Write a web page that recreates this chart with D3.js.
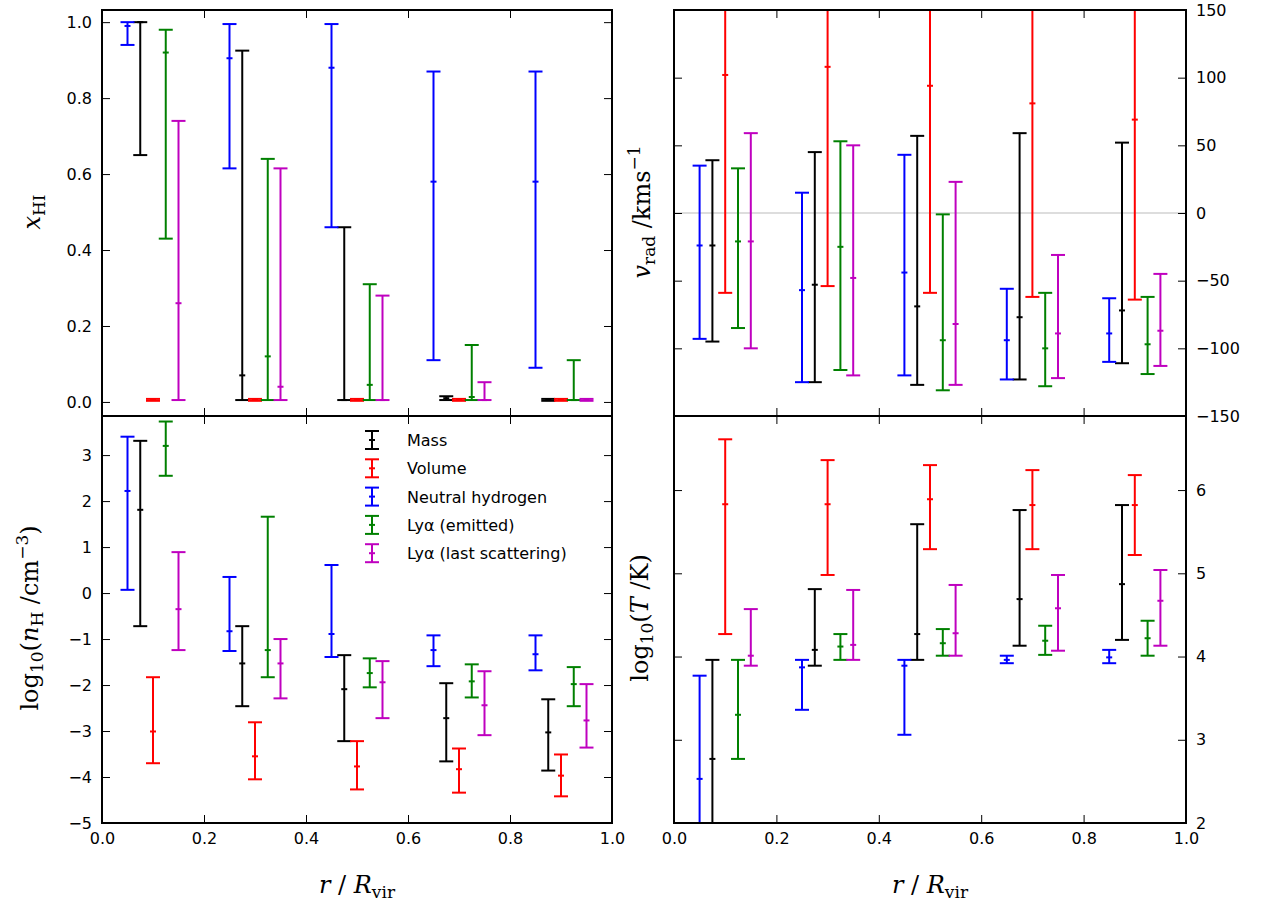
<!DOCTYPE html>
<html><head><meta charset="utf-8">
<script src="https://cdn.jsdelivr.net/npm/d3@7"></script>
<style>body{margin:0;background:#fff}text{font-family:"DejaVu Sans",sans-serif}</style>
</head><body><svg id="c" width="1272" height="904"></svg>
<script>
const seriesNames = ["Mass", "Volume", "Neutral hydrogen", "Ly\u03b1 (emitted)", "Ly\u03b1 (last scattering)"];
const seriesColors = ["#000", "#f00", "#00f", "#008000", "#bf00bf"];
const seriesOffset = [0.025, 0.05, 0, 0.075, 0.1];
const groupStart = [0.05, 0.25, 0.45, 0.65, 0.85];

// [centre, low, high] per group, series in seriesNames order
const xhiData = [
  [[1.0,0.65,1.0],[0.07,0.005,0.925],[0.005,0.005,0.46],[0.01,0.005,0.015],[0.005,0.003,0.008]],
  [[0.005,0.003,0.008],[0.005,0.003,0.008],[0.005,0.003,0.008],[0.005,0.003,0.008],[0.005,0.003,0.008]],
  [[0.99,0.94,1.0],[0.905,0.615,0.995],[0.88,0.46,0.995],[0.58,0.11,0.87],[0.58,0.09,0.87]],
  [[0.92,0.43,0.98],[0.12,0.005,0.64],[0.045,0.005,0.31],[0.013,0.005,0.15],[0.005,0.005,0.11]],
  [[0.26,0.005,0.74],[0.04,0.005,0.615],[0.005,0.005,0.28],[0.005,0.005,0.052],[0.005,0.003,0.008]]
];
const vradData = [
  [[-24,-95,39],[-53,-125,45],[-69,-127,57],[-77,-123,59],[-72,-111,52]],
  [[102,-59,200],[108,-54,200],[94,-59,200],[81,-62,200],[69,-64,200]],
  [[-24,-93,35],[-57,-125,15],[-44,-120,43],[-94,-123,-56],[-89,-110,-63]],
  [[-21,-85,33],[-25,-116,53],[-94,-131,-1],[-100,-128,-59],[-97,-119,-62]],
  [[-21,-100,59],[-48,-120,50],[-82,-127,23],[-89,-122,-31],[-87,-113,-45]]
];
const nhData = [
  [[1.81,-0.72,3.31],[-1.53,-2.46,-0.72],[-2.09,-3.22,-1.35],[-2.72,-3.66,-1.96],[-3.03,-3.86,-2.31]],
  [[-3.01,-3.7,-1.83],[-3.55,-4.05,-2.81],[-3.77,-4.27,-3.22],[-3.83,-4.34,-3.38],[-3.97,-4.42,-3.51]],
  [[2.22,0.07,3.4],[-0.83,-1.26,0.35],[-0.89,-1.39,0.61],[-1.24,-1.59,-0.92],[-1.33,-1.68,-0.92]],
  [[3.2,2.55,3.73],[-1.24,-1.83,1.66],[-1.74,-2.05,-1.42],[-1.92,-2.27,-1.55],[-1.98,-2.46,-1.61]],
  [[-0.35,-1.24,0.89],[-1.53,-2.29,-1.0],[-1.94,-2.72,-1.48],[-2.44,-3.09,-1.7],[-2.77,-3.36,-1.98]]
];
const tempData = [
  [[2.77,1.8,3.96],[4.08,3.89,4.81],[4.27,3.96,5.59],[4.69,4.13,5.76],[4.87,4.2,5.82]],
  [[5.83,4.27,6.61],[5.83,4.98,6.36],[5.89,5.29,6.3],[5.82,5.29,6.24],[5.82,5.22,6.18]],
  [[2.53,1.8,3.77],[3.87,3.36,3.96],[3.89,3.06,3.96],[3.96,3.92,4.01],[3.99,3.92,4.08]],
  [[3.3,2.77,3.96],[4.12,3.96,4.27],[4.16,4.01,4.33],[4.19,4.02,4.37],[4.22,4.01,4.43]],
  [[4.01,3.89,4.57],[4.14,3.96,4.8],[4.28,4.01,4.86],[4.58,4.07,4.98],[4.67,4.13,5.04]]
];
const xTicks = [0, 0.2, 0.4, 0.6, 0.8, 1.0];

const svg = d3.select("#c");
const minus = d => d < 0 ? "\u2212" + (-d) : d;
const panels = [
  {data: xhiData, x0: 102, x1: 612, y0: 10, y1: 416, dom: [-0.037, 1.032], ticks: [0,0.2,0.4,0.6,0.8,1.0], fmt: d3.format(".1f"), right: false, xlab: false},
  {data: vradData, x0: 674, x1: 1186, y0: 10, y1: 416, dom: [-150, 150], ticks: [-150,-100,-50,0,50,100,150], fmt: minus, right: true, xlab: false, zero: true},
  {data: nhData, x0: 102, x1: 612, y0: 416, y1: 823, dom: [-5, 3.85], ticks: [-5,-4,-3,-2,-1,0,1,2,3], fmt: minus, right: false, xlab: true, legend: true},
  {data: tempData, x0: 674, x1: 1186, y0: 416, y1: 823, dom: [2, 6.89], ticks: [2,3,4,5,6], fmt: d => d, right: true, xlab: true}
];

panels.forEach((p, pi) => {
  const x = d3.scaleLinear().domain([0, 1]).range([p.x0, p.x1]);
  const y = d3.scaleLinear().domain(p.dom).range([p.y1, p.y0]);
  const g = svg.append("g");
  g.append("clipPath").attr("id", "clip" + pi).append("rect")
    .attr("x", p.x0).attr("y", p.y0).attr("width", p.x1 - p.x0).attr("height", p.y1 - p.y0);
  const inner = g.append("g").attr("clip-path", `url(#clip${pi})`);
  if (p.zero) inner.append("line").attr("x1", p.x0).attr("x2", p.x1).attr("y1", y(0)).attr("y2", y(0))
    .attr("stroke", "#bbb").attr("stroke-width", 1);

  p.data.forEach((ser, si) => {
    ser.forEach((t, gi) => {
      const cx = x(groupStart[gi] + seriesOffset[si]);
      const eb = inner.append("g").attr("stroke", seriesColors[si]).attr("stroke-width", 2);
      eb.append("line").attr("x1", cx).attr("x2", cx).attr("y1", y(t[1])).attr("y2", y(t[2]));
      [t[1], t[2]].forEach(v => eb.append("line").attr("x1", cx - 7).attr("x2", cx + 7).attr("y1", y(v)).attr("y2", y(v)));
      eb.append("line").attr("x1", cx - 3).attr("x2", cx + 3).attr("y1", y(t[0])).attr("y2", y(t[0]));
    });
  });

  // axes, ticks inward on all sides
  const yAx = (p.right ? d3.axisRight(y) : d3.axisLeft(y))
    .tickValues(p.ticks).tickFormat(p.fmt).tickSizeInner(-8).tickSizeOuter(0).tickPadding(10);
  g.append("g").attr("transform", `translate(${p.right ? p.x1 : p.x0},0)`).call(yAx);
  const yAx2 = (p.right ? d3.axisLeft(y) : d3.axisRight(y)).tickValues(p.ticks).tickFormat("").tickSizeInner(-8).tickSizeOuter(0);
  g.append("g").attr("transform", `translate(${p.right ? p.x0 : p.x1},0)`).call(yAx2);
  const xAx = d3.axisBottom(x).tickValues(xTicks).tickFormat(p.xlab ? d3.format(".1f") : "").tickSizeInner(-8).tickSizeOuter(0).tickPadding(10);
  g.append("g").attr("transform", `translate(0,${p.y1})`).call(xAx);
  g.append("g").attr("transform", `translate(0,${p.y0})`).call(d3.axisTop(x).tickValues(xTicks).tickFormat("").tickSizeInner(-8).tickSizeOuter(0));
  g.selectAll(".domain").remove();
  g.selectAll(".tick text").attr("font-size", 16).attr("fill", "#000");
  g.selectAll(".tick line").attr("stroke", "#000");
  g.append("rect").attr("x", p.x0).attr("y", p.y0).attr("width", p.x1 - p.x0).attr("height", p.y1 - p.y0)
    .attr("fill", "none").attr("stroke", "#000").attr("stroke-width", 2);

  if (p.legend) {
    seriesNames.forEach((n, i) => {
      const ly = 440 + i * 28.3;
      const lg = svg.append("g").attr("stroke", seriesColors[i]).attr("stroke-width", 2);
      lg.append("line").attr("x1", 372).attr("x2", 372).attr("y1", ly - 9).attr("y2", ly + 9);
      lg.append("line").attr("x1", 365).attr("x2", 379).attr("y1", ly - 9).attr("y2", ly - 9);
      lg.append("line").attr("x1", 365).attr("x2", 379).attr("y1", ly + 9).attr("y2", ly + 9);
      lg.append("line").attr("x1", 369).attr("x2", 375).attr("y1", ly).attr("y2", ly);
      svg.append("text").attr("x", 407).attr("y", ly + 6).attr("font-size", 16).text(n);
    });
  }
});

// axis labels
const serif = '"DejaVu Serif",serif';
function lab(xp, yp, rot, parts) {
  const t = svg.append("text").attr("transform", `translate(${xp},${yp}) rotate(${rot})`)
    .attr("text-anchor", "middle").attr("font-family", serif).attr("font-size", 24);
  parts.forEach(([s, style, dy, size]) => {
    const ts = t.append("tspan").text(s).attr("font-family", serif);
    if (style) ts.attr("font-style", style);
    if (dy) ts.attr("dy", dy);
    if (size) ts.attr("font-size", size);
  });
}
lab(357, 893, 0, [["r", "italic"], [" / ", null], ["R", "italic"], ["vir", null, 5, 17]]);
lab(930, 893, 0, [["r", "italic"], [" / ", null], ["R", "italic"], ["vir", null, 5, 17]]);
lab(40, 212, -90, [["x", "italic"], ["HI", null, 5, 17]]);
lab(650, 212, -90, [["v", "italic"], ["rad", null, 5, 17], [" /kms", null, -5], ["\u22121", null, -10, 17]]);
lab(38, 618, -90, [["log", null], ["10", null, 5, 17], ["(", null, -5], ["n", "italic"], ["H", null, 5, 17], [" /cm", null, -5], ["\u22123", null, -10, 17], [")", null, 10]]);
lab(648, 618, -90, [["log", null], ["10", null, 5, 17], ["(", null, -5], ["T", "italic"], [" /K)", null]]);
</script></body></html>
